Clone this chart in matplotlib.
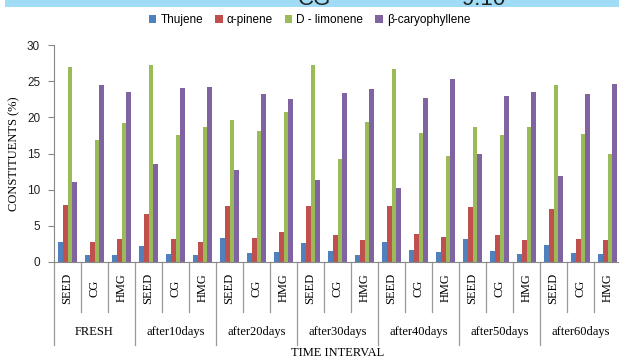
import numpy as np
import matplotlib.pyplot as plt
from matplotlib.transforms import blended_transform_factory

# # data
groups = ['FRESH', 'after10days', 'after20days', 'after30days',
          'after40days', 'after50days', 'after60days']
samples = ['SEED', 'CG', 'HMG']
series = ['Thujene', 'α-pinene', 'D - limonene', 'β-caryophyllene']
colors = ['#4F81BD', '#C0504D', '#9BBB59', '#8064A2']

thujene = [2.7, 1.0, 1.0, 2.2, 1.15, 0.97, 3.3, 1.24, 1.43, 2.67, 1.56,
           1.0, 2.8, 1.6, 1.43, 3.17, 1.5, 1.1, 2.4, 1.3, 1.1]
pinene = [7.9, 2.8, 3.2, 6.7, 3.2, 2.7, 7.7, 3.27, 4.1, 7.7, 3.8,
          3.0, 7.8, 3.86, 3.45, 7.55, 3.7, 3.08, 7.3, 3.2, 3.08]
limonene = [26.9, 16.9, 19.2, 27.2, 17.5, 18.6, 19.7, 18.1, 20.7, 27.3, 14.3,
            19.3, 26.7, 17.85, 14.7, 18.7, 17.5, 18.6, 24.5, 17.65, 14.95]
caryophyllene = [11.1, 24.5, 23.5, 13.5, 24.0, 24.25, 12.75, 23.2, 22.6, 11.4, 23.4,
                 23.9, 10.2, 22.7, 25.25, 14.9, 22.9, 23.5, 11.9, 23.2, 24.6]

values = [thujene, pinene, limonene, caryophyllene]
n = len(thujene)
x = np.arange(n)
w = 0.185

fig = plt.figure(figsize=(6.19, 3.6), dpi=100)

# light blue strip cut off at the top (only the bottom of its text shows)
band = fig.add_axes([5 / 619, 1 - 7 / 360, 614 / 619, 7 / 360])
band.set_facecolor('#A0DCF6')
band.set_xticks([])
band.set_yticks([])
for s in band.spines.values():
    s.set_visible(False)
band.text((298 - 5) / 614, 0.35, 'CG', fontsize=16, family='Liberation Sans',
          color='#222222', transform=band.transAxes, clip_on=True)
band.text((462 - 5) / 614, 0.35, '9.10', fontsize=16, family='Liberation Sans',
          color='#222222', transform=band.transAxes, clip_on=True)

ax = fig.add_axes([54 / 619, 98 / 360, 567 / 619, 217 / 360])
for i, (vals, name, c) in enumerate(zip(values, series, colors)):
    ax.bar(x + (i - 1.5) * w, vals, w, color=c, label=name)

ax.set_xlim(-0.5, n - 0.5)
ax.set_ylim(0, 30)
ax.set_yticks(range(0, 31, 5))
ax.tick_params(axis='y', length=4, color='#888888', labelsize=8.5, pad=6)
for lab in ax.get_yticklabels():
    lab.set_family('Liberation Sans')
    lab.set_color('#222222')
ax.set_xticks([])
for s in ['top', 'right']:
    ax.spines[s].set_visible(False)
ax.spines['left'].set_color('#888888')
ax.spines['bottom'].set_color('#888888')
ax.set_ylabel('CONSTITUENTS (%)', family='Liberation Serif', fontsize=9, labelpad=5)

# hierarchical category axis
tr = blended_transform_factory(ax.transData, ax.transAxes)
for k in range(n + 1):
    y_end = -0.382 if k % 3 == 0 else -0.23
    ax.plot([k - 0.5, k - 0.5], [0, y_end], color='#999999', lw=0.9,
            transform=tr, clip_on=False)
for k in range(n):
    ax.text(k, -0.12, samples[k % 3], rotation=90, ha='center', va='center',
            family='Liberation Serif', fontsize=9, transform=tr)
for g, name in enumerate(groups):
    ax.text(3 * g + 1, -0.323, name, ha='center', va='center',
            family='Liberation Serif', fontsize=9, transform=tr)
ax.text(0.5, -0.42, 'TIME INTERVAL', ha='center', va='center',
        family='Liberation Serif', fontsize=9, transform=ax.transAxes)

fig.legend(loc='center', bbox_to_anchor=(0.5, 1 - 20 / 360), ncol=4,
           frameon=False, handlelength=0.65, handleheight=0.65, handletextpad=0.35,
           columnspacing=1.0, prop={'family': 'Liberation Sans', 'size': 8.5})

fig.savefig('out.png', dpi=100)
